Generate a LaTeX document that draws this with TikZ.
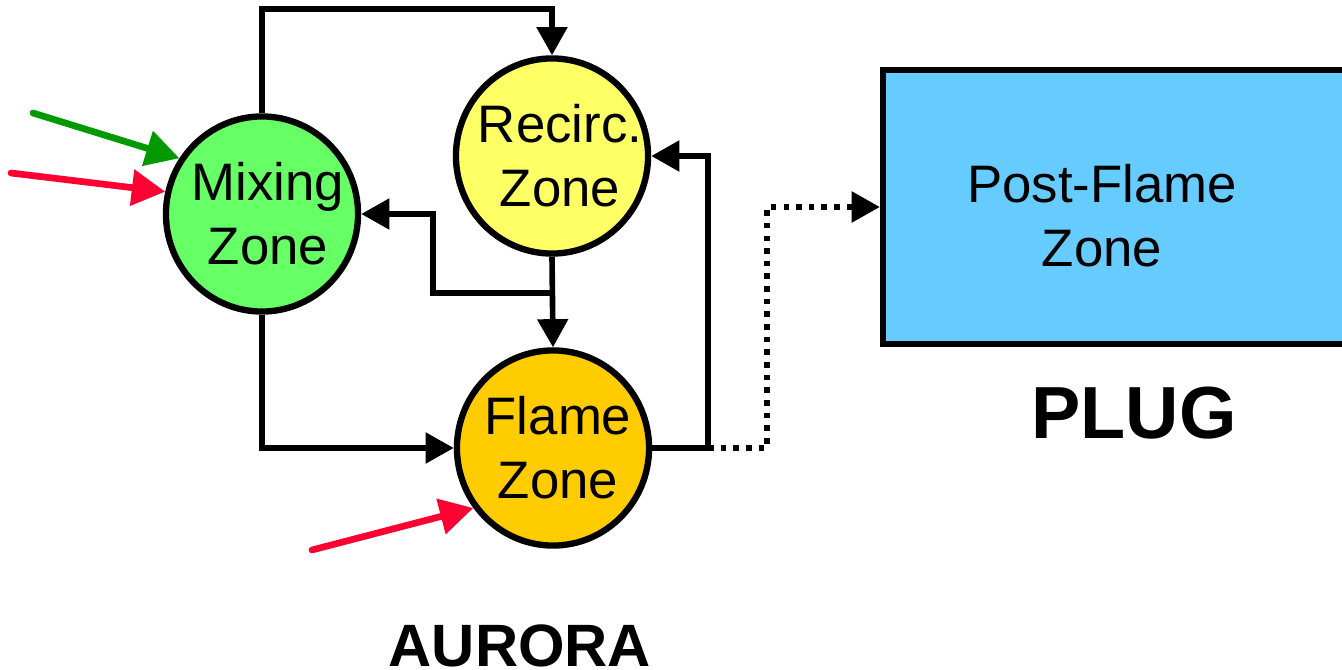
\documentclass[tikz,border=0pt]{standalone}
\usepackage{fontspec}
\setmainfont{Liberation Sans}
\usetikzlibrary{shapes.geometric, positioning, arrows.meta, calc}

\definecolor{mixgreen}{HTML}{66FF66}
\definecolor{recyellow}{HTML}{FFFF66}
\definecolor{flameorange}{HTML}{FFCC00}
\definecolor{plugblue}{HTML}{66CCFF}
\definecolor{airgreen}{HTML}{009900}
\definecolor{fuelred}{HTML}{FF0033}

\begin{document}
\begin{tikzpicture}[
    x=0.01cm, y=-0.01cm,
    zone/.style={draw, ellipse, line width=1.8pt, minimum width=1.92cm, minimum height=1.95cm, inner sep=0pt},
    zonetext/.style={align=center, font=\fontsize{15pt}{18.2pt}\selectfont},
    plugbox/.style={draw, rectangle, line width=1.7pt, fill=plugblue, minimum width=4.86cm, minimum height=2.74cm},
    flow/.style={line width=1.6pt, -{Triangle[length=8pt, width=8.5pt]}},
    feed/.style={line width=1.9pt, line cap=round, -{Triangle[length=9.5pt, width=10pt]}},
    title/.style={anchor=base, inner sep=0pt, font=\bfseries}
]
    \useasboundingbox (0,0) rectangle (1342,670);

    % ================= ZONES =================
    \node[zone, fill=mixgreen, label={[zonetext, xshift=0.6mm]center:Mixing\\Zone}] (mix) at (262,214) {};
    \node[zone, fill=recyellow, label={[zonetext, xshift=0.8mm]center:Recirc.\\Zone}] (rec) at (552,156) {};
    \node[zone, fill=flameorange, label={[zonetext, xshift=0.5mm]center:Flame\\Zone}] (flame) at (553,448) {};
    \node[plugbox] (post) at (1126,207) {};
    \node[zonetext] (posttxt) at (1102,216) {Post-Flame\\Zone};

    % ================= LABELS =================
    \node[title, font=\fontsize{17pt}{20pt}\selectfont\bfseries] (aurora) at (520,666) {AURORA};
    \node[title, font=\fontsize{21pt}{25pt}\selectfont\bfseries] (plug) at (1134,438) {PLUG};

    % ================= FLOWS =================
    \coordinate (split) at (552,293);
    \coordinate (tap) at (708,448);

    \draw[flow] (mix.north) |- ([yshift=4.6mm]rec.north) -- (rec.north);
    \draw[flow] (mix.south) |- (flame.west);
    \draw[flow] (rec.south) -- (flame.north);
    \draw[flow] (split) -- ++(-119,0) |- (mix.east);
    \draw[flow] (flame.east) -| (tap) |- (rec.east);
    \draw[flow, dash pattern=on 1.6pt off 2pt] (tap) -- ++(59,0) |- (post.west);

    % ================= FEEDS =================
    \coordinate (air) at (33,113);
    \coordinate (fuel1) at (11,173);
    \coordinate (fuel2) at (312,550);

    \draw[feed, airgreen] (air) -- (mix.146);
    \draw[feed, fuelred] (fuel1) -- (mix.167);
    \draw[feed, fuelred] (fuel2) -- (flame.217);

\end{tikzpicture}
\end{document}
